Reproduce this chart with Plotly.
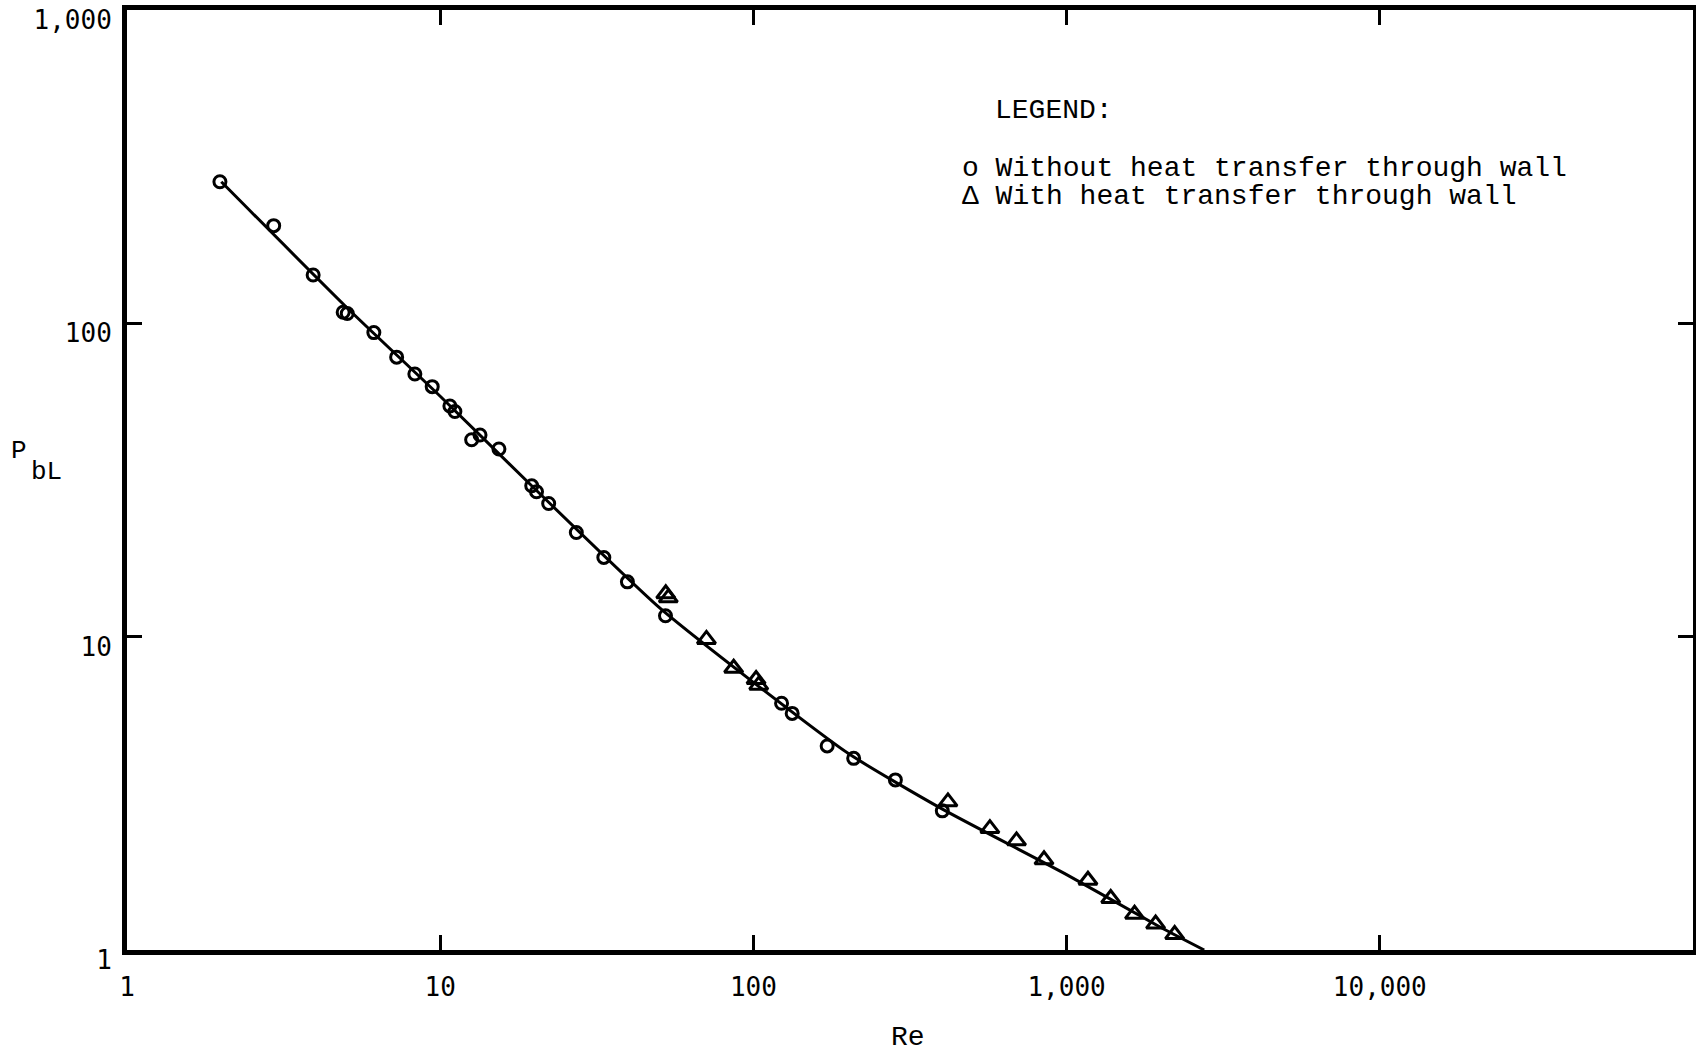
import plotly.graph_objects as go

# Runs without heat transfer through the wall (open circles)
re_without = [1.98, 2.94, 3.93, 4.9, 5.05, 6.14, 7.26, 8.30, 9.43, 10.74, 11.14,
              12.6, 13.4, 15.4, 19.6, 20.3, 22.2, 27.2, 33.3, 39.6, 52.4,
              123, 133, 172, 209, 284, 401]
pbl_without = [283, 205, 142.6, 108.5, 107.5, 93.4, 78.0, 68.9, 62.8, 54.5, 52.3,
               42.5, 44.0, 39.7, 30.3, 29.0, 26.6, 21.5, 17.9, 14.96, 11.66,
               6.13, 5.69, 4.48, 4.09, 3.49, 2.78]

# Runs with heat transfer through the wall (open triangles)
re_with = [52.5, 53.5, 70.8, 86.5, 102, 104, 418, 569, 692, 847, 1170, 1383,
           1648, 1924, 2213]
pbl_with = [13.7, 13.3, 9.80, 7.93, 7.3, 7.0, 2.97, 2.44, 2.23, 1.94, 1.67, 1.46,
            1.30, 1.21, 1.12]

# Correlation curve drawn through the data
re_curve = [2.0, 5, 10, 20, 50, 100, 200, 400, 1000, 2000, 2750]
pbl_curve = [283, 113, 58.5, 29.7, 12.4, 7.15, 4.25, 2.82, 1.74, 1.18, 1.0]

x_tickvals = [1, 10, 100, 1000, 10000]
x_ticktext = ["1", "10", "100", "1,000", "10,000"]
y_tickvals = [1, 10, 100, 1000]
y_ticktext = ["1", "10", "100", "1,000"]

legend_title = "LEGEND:"
label_without = "Without heat transfer through wall"
label_with = "With heat transfer through wall"

TYPE = "Liberation Mono, Courier New, monospace"
TICK = "DejaVu Sans Mono, monospace"

fig = go.Figure()
fig.add_trace(go.Scatter(
    x=re_curve, y=pbl_curve, mode="lines",
    line=dict(color="black", width=3, shape="spline", smoothing=0.6),
    showlegend=False, hoverinfo="skip"))
fig.add_trace(go.Scatter(
    x=re_without, y=pbl_without, mode="markers", name=label_without,
    marker=dict(symbol="circle-open", size=12, color="black",
                line=dict(width=3, color="black")),
    showlegend=False))
fig.add_trace(go.Scatter(
    x=re_with, y=pbl_with, mode="markers", name=label_with,
    marker=dict(symbol="triangle-up-open", size=16, color="black",
                line=dict(width=3, color="black")),
    showlegend=False))

axis_common = dict(
    type="log", showgrid=False, zeroline=False,
    showline=True, linecolor="black", linewidth=5, mirror="ticks",
    ticks="inside", ticklen=15, tickwidth=2.5, tickcolor="black",
    tickfont=dict(family=TICK, size=26, color="black"),
    ticklabeloverflow="allow",
    automargin=False,
)

fig.update_xaxes(range=[0, 5], tickvals=x_tickvals, ticktext=x_ticktext,
                 ticklabelstandoff=10, **axis_common)
fig.update_yaxes(range=[0, 3], tickvals=y_tickvals, ticktext=y_ticktext,
                 ticklabelstandoff=5, ticklabelshift=10, **axis_common)

annotations = [
    dict(text="Re", x=0.4987, y=-0.0926, xanchor="center", yanchor="middle", size=28),
    dict(text="P", x=-0.0689, y=0.531, xanchor="center", yanchor="middle", size=26),
    dict(text="bL", x=-0.0625, y=0.5085, xanchor="left", yanchor="middle", size=26),
    dict(text=legend_title, x=0.553, y=0.8926, xanchor="left", yanchor="middle", size=28),
    dict(text="o " + label_without, x=0.532, y=0.8319, xanchor="left",
         yanchor="middle", size=28),
    dict(text="\u0394 " + label_with, x=0.532, y=0.8021, xanchor="left",
         yanchor="middle", size=28),
]
for a in annotations:
    size = a.pop("size")
    fig.add_annotation(xref="paper", yref="paper", showarrow=False,
                       font=dict(family=TYPE, size=size, color="black"), **a)

fig.update_layout(
    width=1696, height=1052,
    margin=dict(l=127, r=3, t=10, b=102, pad=0),
    paper_bgcolor="white", plot_bgcolor="white",
    showlegend=False,
)

fig.write_html("out.html")
